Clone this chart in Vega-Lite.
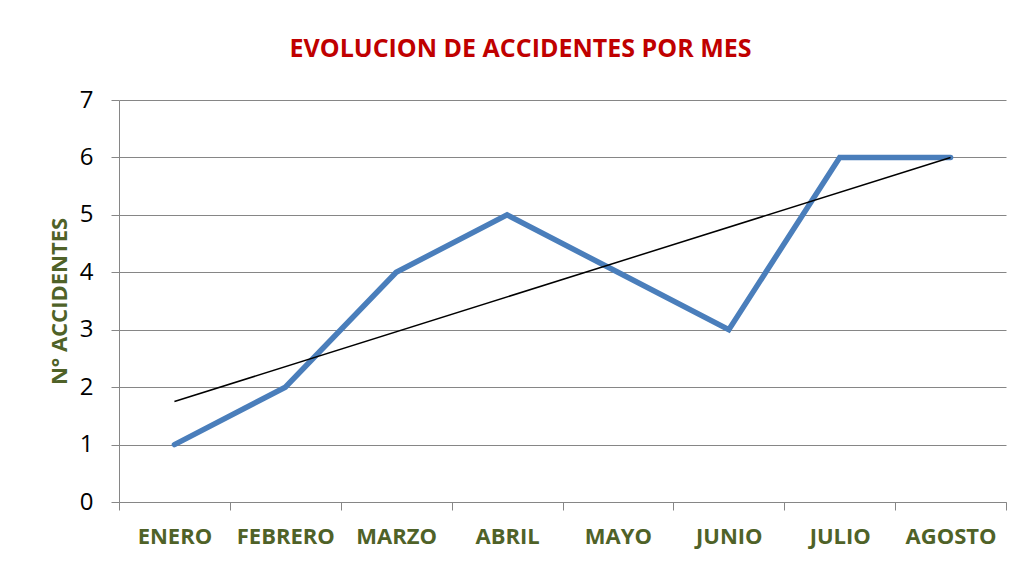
{
  "$schema": "https://vega.github.io/schema/vega-lite/v6.json",
  "width": 887,
  "height": 402,
  "autosize": {"type": "none"},
  "padding": {"left": 119, "top": 100, "right": 18, "bottom": 61},
  "background": "white",
  "title": {
    "text": "EVOLUCION DE ACCIDENTES POR MES",
    "color": "#C00000",
    "font": "Open Sans",
    "fontSize": 25,
    "fontWeight": "bold",
    "anchor": "middle",
    "dx": -42,
    "offset": 26
  },
  "datasets": {
    "acc": [
      {"mes": "ENERO", "n": 1, "acc": 1},
      {"mes": "FEBRERO", "n": 2, "acc": 2},
      {"mes": "MARZO", "n": 3, "acc": 4},
      {"mes": "ABRIL", "n": 4, "acc": 5},
      {"mes": "MAYO", "n": 5, "acc": 4},
      {"mes": "JUNIO", "n": 6, "acc": 3},
      {"mes": "JULIO", "n": 7, "acc": 6},
      {"mes": "AGOSTO", "n": 8, "acc": 6}
    ]
  },
  "config": {
    "view": {"stroke": null},
    "font": "Open Sans"
  },
  "layer": [
    {
      "data": {"name": "acc"},
      "mark": {"type": "line", "color": "#4A7EBB", "strokeWidth": 5.5, "strokeJoin": "miter", "strokeCap": "round"},
      "encoding": {
        "x": {
          "field": "mes",
          "type": "ordinal",
          "sort": ["ENERO", "FEBRERO", "MARZO", "ABRIL", "MAYO", "JUNIO", "JULIO", "AGOSTO"],
          "scale": {"type": "band", "paddingInner": 0, "paddingOuter": 0},
          "axis": {
            "title": null,
            "labelAngle": 0,
            "tickBand": "extent",
            "domainColor": "#868686",
            "tickColor": "#868686",
            "tickSize": 8,
            "labelPadding": 16,
            "labelFontSize": 22,
            "labelFontWeight": "bold",
            "labelColor": "#4F6228",
            "labelFont": "Open Sans",
            "grid": false
          }
        },
        "y": {
          "field": "acc",
          "type": "quantitative",
          "scale": {"domain": [0, 7], "nice": false},
          "axis": {
            "title": "N° ACCIDENTES",
            "titleColor": "#4F6228",
            "titleFontSize": 22,
            "titleFontWeight": "bold",
            "titleFont": "Open Sans",
            "titlePadding": 8,
            "values": [0, 1, 2, 3, 4, 5, 6, 7],
            "format": "d",
            "grid": true,
            "gridColor": "#868686",
            "gridWidth": 1,
            "domainColor": "#868686",
            "tickColor": "#868686",
            "tickSize": 8,
            "labelPadding": 18,
            "labelFontSize": 24,
            "labelColor": "#000000",
            "labelFont": "Open Sans"
          }
        }
      }
    },
    {
      "data": {"name": "acc"},
      "transform": [
        {"regression": "acc", "on": "n"},
        {"lookup": "n", "from": {"data": {"name": "acc"}, "key": "n", "fields": ["mes"]}}
      ],
      "mark": {"type": "line", "color": "#000000", "strokeWidth": 1.5},
      "encoding": {
        "x": {
          "field": "mes",
          "type": "ordinal",
          "sort": ["ENERO", "FEBRERO", "MARZO", "ABRIL", "MAYO", "JUNIO", "JULIO", "AGOSTO"]
        },
        "y": {"field": "acc", "type": "quantitative"}
      }
    }
  ]
}
